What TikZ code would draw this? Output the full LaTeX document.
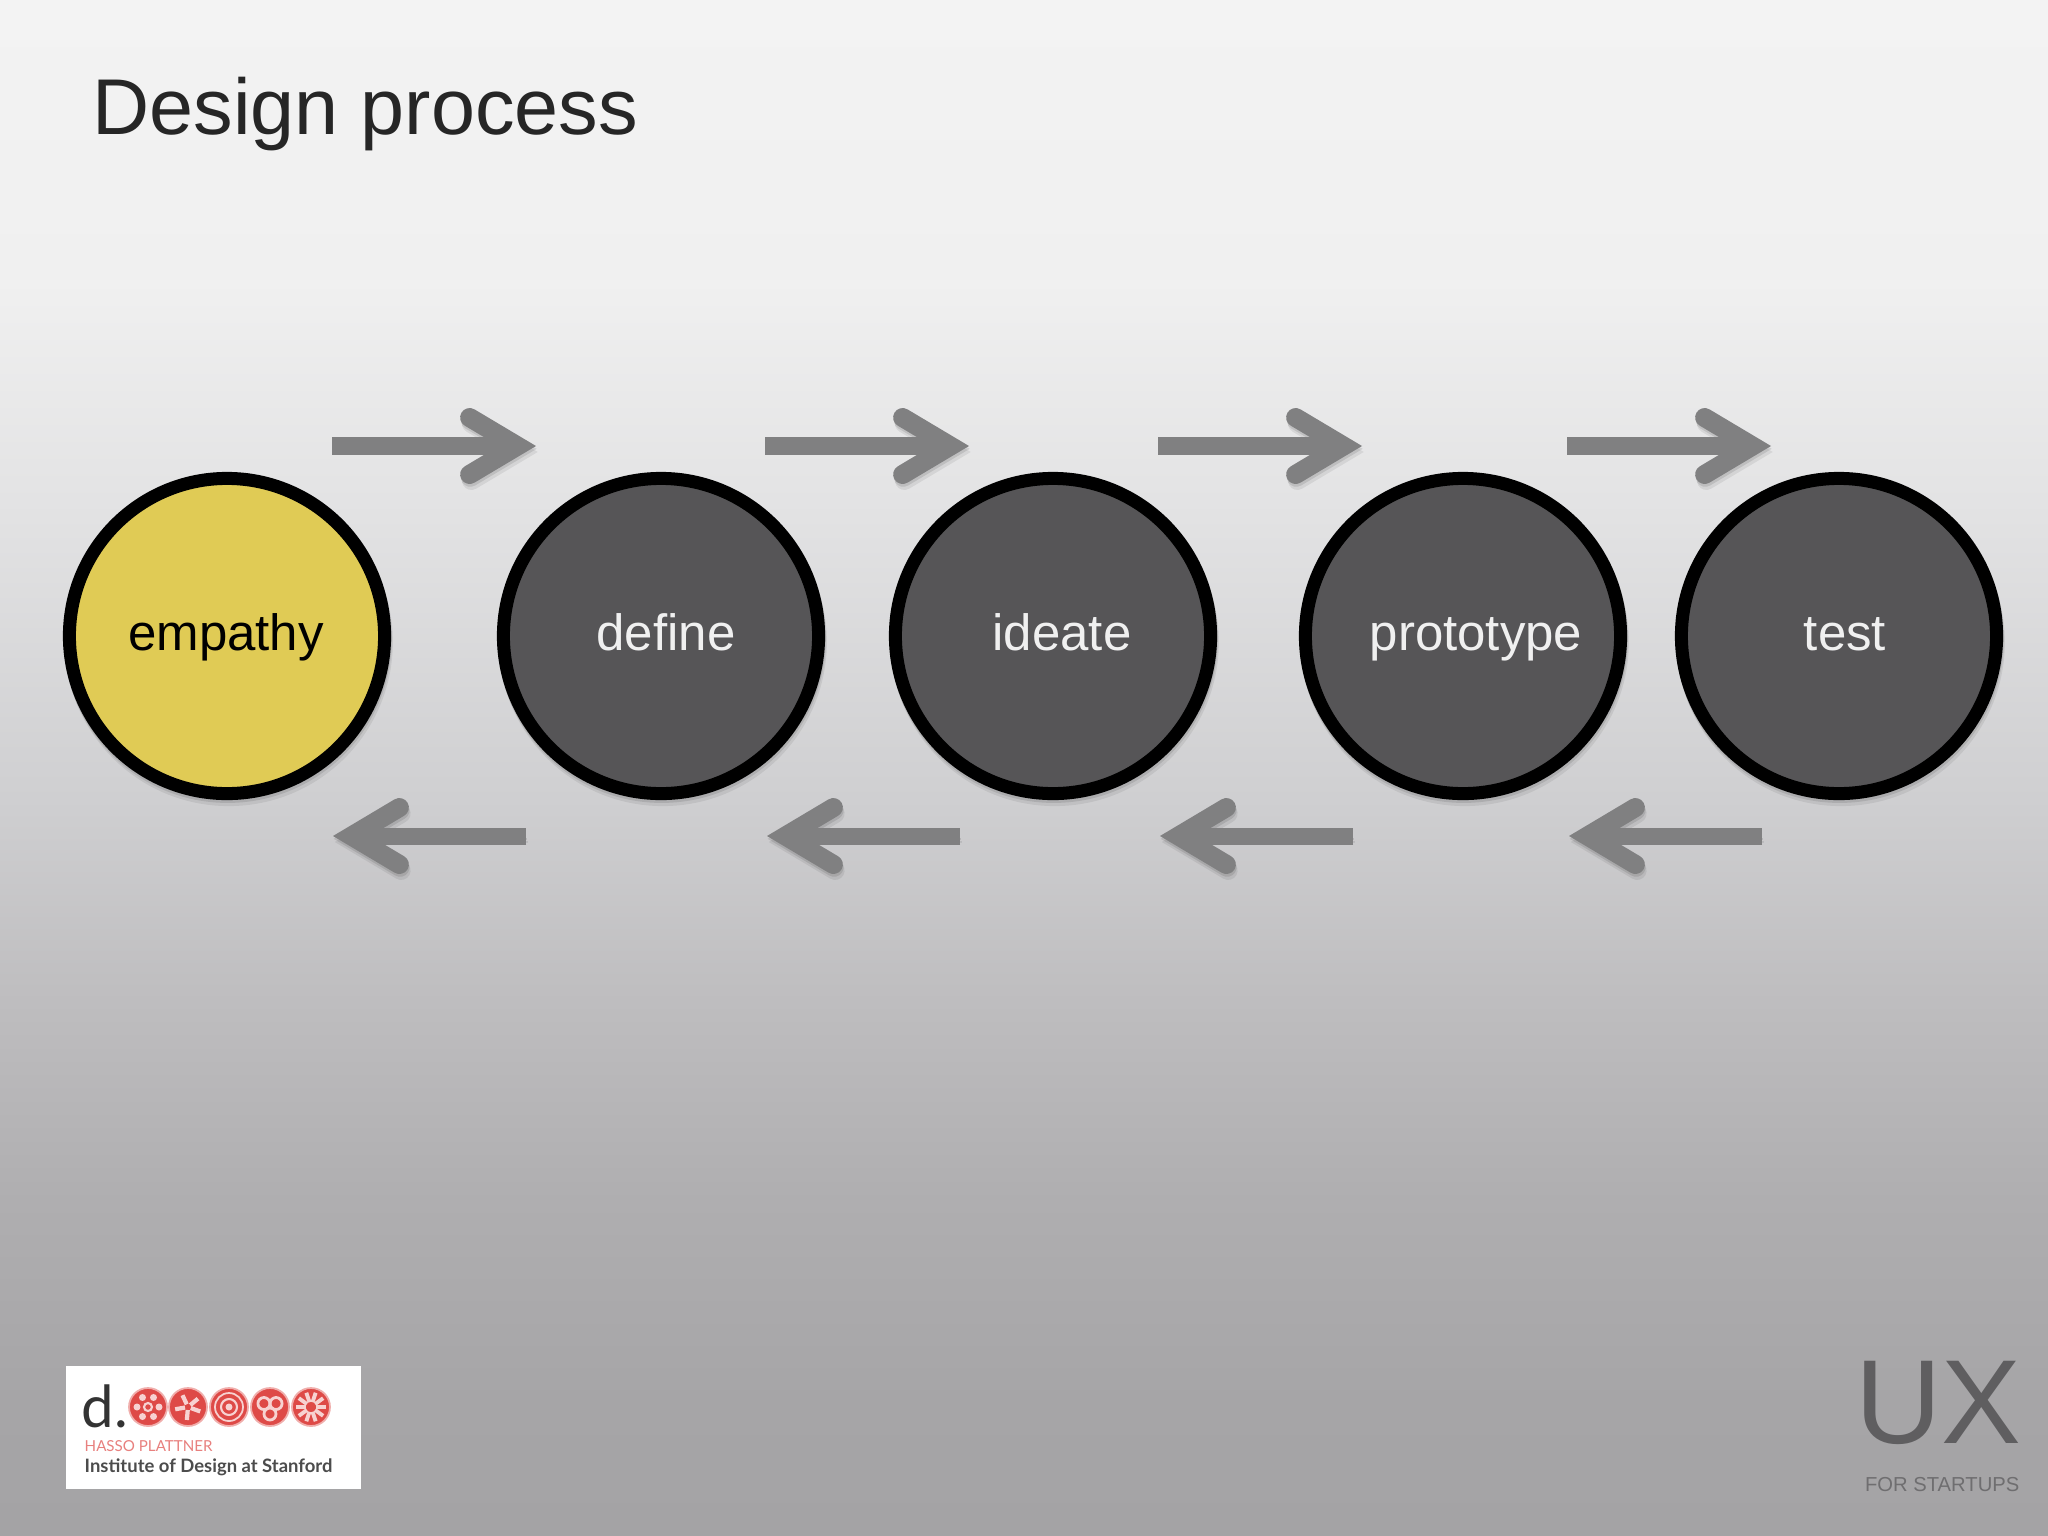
\documentclass[tikz,border=0pt]{standalone}
\usepackage{fontspec}
\setmainfont{Liberation Sans}
\newfontfamily\logofont{Lato}
\usetikzlibrary{arrows.meta}

\definecolor{stagedark}{HTML}{565557}
\definecolor{stageyellow}{HTML}{E0CB55}
\definecolor{flowgray}{HTML}{808081}
\definecolor{uxgray}{HTML}{5F5E60}
\definecolor{logored}{HTML}{DE4A47}
\definecolor{bgs0}{HTML}{F3F3F3}
\definecolor{bgs1}{HTML}{F0F0F0}
\definecolor{bgs2}{HTML}{E3E3E4}
\definecolor{bgs3}{HTML}{CFCFD1}
\definecolor{bgs4}{HTML}{BEBDBF}
\definecolor{bgs5}{HTML}{AFAEB0}
\definecolor{bgs6}{HTML}{A6A5A7}
\definecolor{bgs7}{HTML}{A4A3A5}

\pgfdeclareverticalshading{slidebg}{100bp}{
  color(0bp)=(bgs7); color(25bp)=(bgs7); color(29.4bp)=(bgs6); color(35.9bp)=(bgs5); color(42.4bp)=(bgs4);
  color(49bp)=(bgs3); color(58.7bp)=(bgs2); color(65.9bp)=(bgs1); color(75bp)=(bgs0); color(100bp)=(bgs0)}

\tikzset{
  softshadow/.style={
    preaction={draw=black, fill=black, opacity=0.07, transform canvas={shift={(0.5pt,-1.7pt)}}},
    preaction={draw=black, fill=black, opacity=0.10, transform canvas={shift={(0.2pt,-0.8pt)}}}},
  stage/.style={circle, draw=black, fill=stagedark, line width=3.7pt, minimum size=3.15cm, inner sep=0pt, softshadow},
  stagetext/.style={anchor=base, inner sep=0pt, text=white!94!black, font=\fontsize{14.5}{14.5}\selectfont},
  flowarrow/.style={-{Straight Barb[length=13.6pt, width=16.2pt, line cap=round, line join=miter, line width=5.4pt]}, draw=flowgray, line width=4.84pt, softshadow},
  logotext/.style={anchor=base west, inner sep=0pt},
  rosette/.style={circle, fill=logored, draw=logored!45!white, line width=0.5pt, minimum size=0.38cm, inner sep=0pt},
  petal/.style={fill=white!75!logored},
  petalline/.style={draw=white!75!logored}
}

\begin{document}
\begin{tikzpicture}[x=0.01cm, y=-0.01cm]

    % constants
    \def\ycirc{636}
    \def\ytop{446}
    \def\ybot{836}
    \def\ytext{650}
    \def\ylogo{1407}

    % slide
    \useasboundingbox (0,0) rectangle (2048,1536);
    \shade[shading=slidebg] (0,0) rectangle (2048,1536);

    % title
    \node [anchor=base west, inner sep=0pt, text=black!85, font=\fontsize{22.5}{22.5}\selectfont] (title) at (92,134) {Design process};

    % stages
    \node [stage, fill=stageyellow] (empathy) at (227,\ycirc) {};
    \node [stage] (define) at (661,\ycirc) {};
    \node [stage] (ideate) at (1053,\ycirc) {};
    \node [stage] (prototype) at (1463,\ycirc) {};
    \node [stage] (test) at (1839,\ycirc) {};

    \node [stagetext, text=black] (empathytext) at (226,\ytext) {empathy};
    \node [stagetext] (definetext) at (666,\ytext) {define};
    \node [stagetext] (ideatetext) at (1062,\ytext) {ideate};
    \node [stagetext] (prototypetext) at (1476,\ytext) {prototype};
    \node [stagetext] (testtext) at (1845,\ytext) {test};

    % forward arrows
    \coordinate (f1a) at (332,\ytop);
    \coordinate (f1b) at (536,\ytop);
    \coordinate (f2a) at (765,\ytop);
    \coordinate (f2b) at (969,\ytop);
    \coordinate (f3a) at (1158,\ytop);
    \coordinate (f3b) at (1362,\ytop);
    \coordinate (f4a) at (1567,\ytop);
    \coordinate (f4b) at (1771,\ytop);
    \draw [flowarrow] (f1a) -- (f1b);
    \draw [flowarrow] (f2a) -- (f2b);
    \draw [flowarrow] (f3a) -- (f3b);
    \draw [flowarrow] (f4a) -- (f4b);

    % backward arrows
    \coordinate (b1a) at (526,\ybot);
    \coordinate (b1b) at (333,\ybot);
    \coordinate (b2a) at (960,\ybot);
    \coordinate (b2b) at (767,\ybot);
    \coordinate (b3a) at (1353,\ybot);
    \coordinate (b3b) at (1160,\ybot);
    \coordinate (b4a) at (1762,\ybot);
    \coordinate (b4b) at (1569,\ybot);
    \draw [flowarrow] (b1a) -- (b1b);
    \draw [flowarrow] (b2a) -- (b2b);
    \draw [flowarrow] (b3a) -- (b3b);
    \draw [flowarrow] (b4a) -- (b4b);

    % logo
    \fill[white] (66,1366) rectangle (361,1489);
    \node [logotext, text=black!80, font=\logofont\fontsize{16.5}{17}\selectfont] (logod) at (81,1427) {d.};
    \node [rosette] (r1) at (148,\ylogo) {};
    \node [rosette] (r2) at (188,\ylogo) {};
    \node [rosette] (r3) at (229,\ylogo) {};
    \node [rosette] (r4) at (270,\ylogo) {};
    \node [rosette] (r5) at (311,\ylogo) {};
    \foreach \a in {0,60,...,300} \fill[petal] (r1) ++(\a:11) circle [radius=3.5];
    \draw[petalline, line width=0.6pt] (r1) circle [radius=4];
    \foreach \a in {20,95,170,245,320} \draw[petalline, line width=1.2pt] (r2) ++(\a:3) -- ++(\a:10);
    \draw[petalline, line width=0.5pt] (r3) circle [radius=14];
    \draw[petalline, line width=0.6pt] (r3) circle [radius=8];
    \fill[petal] (r3) circle [radius=3.5];
    \foreach \a in {90,210,330} \draw[petalline, line width=0.8pt] (r4) ++(\a:7) circle [radius=6];
    \foreach \a in {0,36,...,324} \draw[petalline, line width=1.1pt] (r5) ++(\a:5) -- ++(\a:10);
    \node [logotext, text=logored!70!white, font=\logofont\fontsize{4.3}{5}\selectfont] (logoa) at (84,1451) {HASSO PLATTNER};
    \node [logotext, text=black!70, font=\logofont\bfseries\fontsize{5.25}{6}\selectfont] (logob) at (84,1472) {Institute of Design at Stanford};

    % brand
    \node [anchor=base east, inner sep=0pt, text=uxgray, font=\fontsize{34}{34}\selectfont] (ux) at (2022,1443) {UX};
    \node [anchor=base east, inner sep=0pt, text=uxgray!90!white, font=\fontsize{5.75}{6}\selectfont] (startups) at (2020,1491) {FOR STARTUPS};

\end{tikzpicture}
\end{document}
